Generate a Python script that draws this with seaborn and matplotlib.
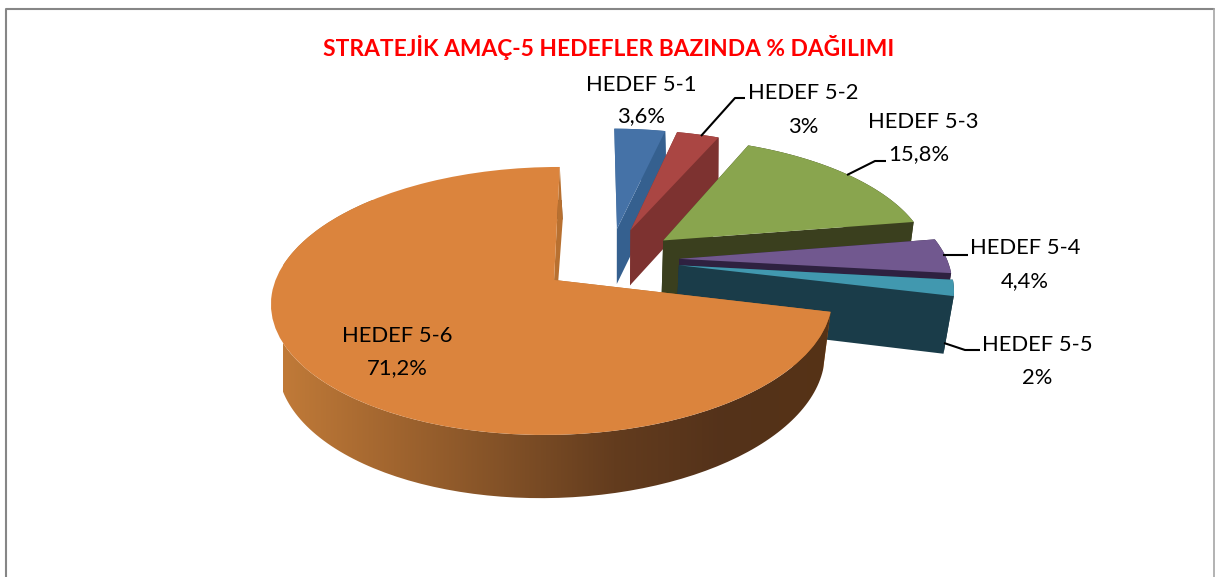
import numpy as np
import matplotlib
matplotlib.use("Agg")
import matplotlib.pyplot as plt
from matplotlib.transforms import Transform
from matplotlib.path import Path
from matplotlib.patches import PathPatch
import seaborn as sns

# ---- data ----
categories = ["HEDEF 5-1", "HEDEF 5-2", "HEDEF 5-3", "HEDEF 5-4", "HEDEF 5-5", "HEDEF 5-6"]
values = [3.6, 3.0, 15.8, 4.4, 2.0, 71.2]
value_labels = ["3,6%", "3%", "15,8%", "4,4%", "2%", "71,2%"]
title = "STRATEJİK AMAÇ-5 HEDEFLER BAZINDA % DAĞILIMI"
top_colors = ["#4572A7", "#AA4643", "#89A54E", "#71588F", "#4198AF", "#DB843D"]
side_colors = ["#35608F", "#7D3230", "#3A3F1E", "#2E2140", "#1A3C49", "#B87030"]
gradient_colors = ["#C07A38", "#A1652F", "#825127", "#633C1E", "#54321A", "#563316"]

# ---- layout / projection ----
W, H = 1215, 577
OX, OY = 559.0, 280.0
R, A, K, M = 277.0, 130.7, 0.157, 0.005
SX, SY, DZ, SHEAR_TOP, SHEAR_BOT = 0.975, 1.04, 57.0, 0.045, 0.07
EXPLODE = 0.258
CENTER = (0.185, 0.16)
label_pos = [(641, 85, 641, 116), (803, 93, 803, 127), (923, 122, 919, 154),
             (1025, 248, 1025, 281), (1037, 345, 1037, 378), (397, 336, 397, 368)]
leaders = [None,
           [(701, 136), (735, 98), (745, 98)],
           [(847, 175), (875, 161), (886, 161)],
           [(943, 255), (968, 255)],
           [(944, 343), (965, 350), (980, 350)],
           None]

FONT = "Lato"
FS = 15.8


def project(xy, bottom=False):
    xy = np.asarray(xy, float)
    x, y = xy[..., 0], xy[..., 1]
    w = 1 + K * y + M * x
    dx = R * x / w
    dy = A * y / w
    if bottom:
        return np.stack([OX + SX * dx + SHEAR_BOT * dy, OY + DZ - SY * dy], axis=-1)
    return np.stack([OX + dx + SHEAR_TOP * dy, OY - dy], axis=-1)


class TopPlane(Transform):
    input_dims = output_dims = 2
    has_inverse = False
    is_separable = False

    def transform_non_affine(self, values):
        return project(values)


sns.set_theme(style="white")
plt.rcParams["font.family"] = [FONT, "DejaVu Sans"]
fig = plt.figure(figsize=(W / 100, H / 100), dpi=100, facecolor="white")
ax = fig.add_axes([0, 0, 1, 1])

palette = sns.color_palette(top_colors)
wedges, _ = ax.pie(values, explode=[EXPLODE] * len(values), center=CENTER, radius=1,
                   startangle=90, counterclock=False, colors=palette,
                   wedgeprops=dict(linewidth=0))
ax.set_aspect("auto")
ax.axis("off")

top_tf = TopPlane() + ax.transData
grad_cmap = sns.blend_palette(gradient_colors, as_cmap=True)

for i, w in enumerate(wedges):
    z = 10 + 2 * i
    last = i == len(wedges) - 1
    w.set_transform(top_tf)
    w.set_zorder(z + 1)
    w.set_clip_on(False)
    cx, cy = w.center
    t = np.radians(np.linspace(w.theta1, w.theta2, 200))
    rim = np.column_stack([cx + np.cos(t), cy + np.sin(t)])
    apex = np.array([[cx, cy]])
    # radial faces
    for k, end in enumerate((rim[0], rim[-1])):
        pts = np.vstack([apex, [end]])
        poly = np.vstack([project(pts), project(pts, True)[::-1]])
        face_z = z + 0.7 if (last and k == 0) else z
        ax.fill(poly[:, 0], poly[:, 1], color=side_colors[i], lw=0, zorder=face_z)
    # outer wall
    wall = np.vstack([project(rim), project(rim, True)[::-1]])
    if last:
        im = ax.imshow(np.linspace(0, 1, 256)[None, :], cmap=grad_cmap, aspect="auto",
                       extent=(283, 835, 500, 200), zorder=z + 0.5)
        im.set_clip_path(PathPatch(Path(wall), transform=ax.transData))
    else:
        ax.fill(wall[:, 0], wall[:, 1], color=side_colors[i], lw=0, zorder=z)

ax.set_xlim(0, W)
ax.set_ylim(H, 0)
ax.set_aspect("auto")

for name, val, (x1, y1, x2, y2), lead in zip(categories, value_labels, label_pos, leaders):
    ax.text(x1, y1, name, ha="center", va="center", fontsize=FS, color="black", zorder=40)
    ax.text(x2, y2, val, ha="center", va="center", fontsize=FS, color="black", zorder=40)
    if lead:
        lx, ly = zip(*lead)
        ax.plot(lx, ly, color="black", lw=1.5, zorder=39, solid_capstyle="butt")

ax.text(609, 47, title, ha="center", va="center", fontsize=16.4, fontweight="bold",
        color="#FF0000", zorder=40)

# chart frame
ax.plot([5.5, 5.5, 1214], [H, 8.5, 8.5], color="#868686", lw=1.5, zorder=50, clip_on=False)
ax.plot([1214.2, 1214.2], [8.5, H], color="#A6A6A6", lw=1.2, zorder=50, clip_on=False)

fig.savefig("out.png", dpi=100, facecolor="white")
